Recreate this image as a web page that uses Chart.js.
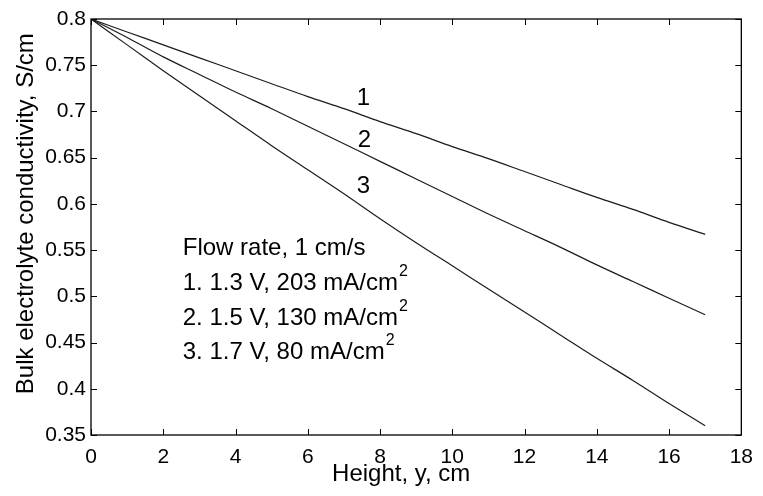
<!DOCTYPE html>
<html>
<head>
<meta charset="utf-8">
<script src="https://cdn.jsdelivr.net/npm/chart.js@4.4.1/dist/chart.umd.min.js"></script>
<style>
  html, body { margin: 0; padding: 0; background: #fff; }
  #wrap { width: 763px; height: 496px; position: relative; }
</style>
</head>
<body>
<div id="wrap"><canvas id="c" width="763" height="496"></canvas></div>
<script>
// Height along the electrode, cm
const heights = [0, 1, 2, 3, 4, 5, 6, 7, 8, 9, 10, 11, 12, 13, 14, 15, 16, 17];

// Bulk electrolyte conductivity, S/cm, for the three operating points
const curve1 = [0.800, 0.786, 0.772, 0.758, 0.744, 0.730, 0.716, 0.703, 0.689,
                0.676, 0.662, 0.649, 0.635, 0.621, 0.607, 0.594, 0.580, 0.567];
const curve2 = [0.800, 0.780, 0.759, 0.740, 0.721, 0.703, 0.684, 0.665, 0.646,
                0.627, 0.608, 0.589, 0.571, 0.553, 0.534, 0.516, 0.498, 0.480];
const curve3 = [0.800, 0.772, 0.744, 0.717, 0.690, 0.663, 0.637, 0.611, 0.584,
                0.558, 0.533, 0.508, 0.483, 0.458, 0.433, 0.409, 0.384, 0.360];

// Axis ticks
const xTicks = [0, 2, 4, 6, 8, 10, 12, 14, 16, 18];
const yTicks = [0.35, 0.4, 0.45, 0.5, 0.55, 0.6, 0.65, 0.7, 0.75, 0.8];
const yTickLabels = ['0.35', '0.4', '0.45', '0.5', '0.55', '0.6', '0.65', '0.7', '0.75', '0.8'];

// Axis titles
const xTitle = 'Height, y, cm';
const yTitle = 'Bulk electrolyte conductivity, S/cm';

// Curve numbers placed next to each line (data coordinates)
const curveTags = [
  { text: '1', x: 7.54, y: 0.7145 },
  { text: '2', x: 7.57, y: 0.669 },
  { text: '3', x: 7.54, y: 0.6186 }
];

// Note inside the plot
const noteLines = [
  { main: 'Flow rate, 1 cm/s', sup: '' },
  { main: '1. 1.3 V, 203 mA/cm', sup: '2' },
  { main: '2. 1.5 V, 130 mA/cm', sup: '2' },
  { main: '3. 1.7 V, 80 mA/cm', sup: '2' }
];
const noteX = 2.54;
const noteY = [0.5523, 0.5144, 0.4766, 0.4398];

const FONT = '"Liberation Sans", Arial, Helvetica, sans-serif';
const LINE_COLOR = '#1c1c1c';

function toPoints(ys) {
  return heights.map((h, i) => ({ x: h, y: ys[i] }));
}

function lineDataset(label, ys) {
  return {
    label: label,
    data: toPoints(ys),
    borderColor: LINE_COLOR,
    borderWidth: 1.2,
    pointRadius: 0,
    tension: 0.3,
    fill: false
  };
}

// Box around the plot area with inward tick marks on all four sides,
// axis titles, curve numbers and the note text.
const framePlugin = {
  id: 'frame',
  afterDatasetsDraw(chart) {
    const { ctx, chartArea: a, scales } = chart;
    const xs = scales.x, ys = scales.y;
    const tl = 6;
    ctx.save();
    ctx.strokeStyle = '#000';
    ctx.lineWidth = 1.3;
    ctx.strokeRect(a.left, a.top, a.right - a.left, a.bottom - a.top);
    ctx.lineWidth = 1;
    ctx.beginPath();
    xTicks.forEach(v => {
      const px = Math.round(xs.getPixelForValue(v)) + 0.5;
      ctx.moveTo(px, a.bottom); ctx.lineTo(px, a.bottom - tl);
      ctx.moveTo(px, a.top); ctx.lineTo(px, a.top + tl);
    });
    yTicks.forEach(v => {
      const py = Math.round(ys.getPixelForValue(v)) + 0.5;
      ctx.moveTo(a.left, py); ctx.lineTo(a.left + tl, py);
      ctx.moveTo(a.right, py); ctx.lineTo(a.right - tl, py);
    });
    ctx.stroke();

    ctx.fillStyle = '#000';

    // axis titles
    ctx.font = '24px ' + FONT;
    ctx.textAlign = 'center';
    ctx.textBaseline = 'alphabetic';
    ctx.fillText(xTitle, a.left + (a.right - a.left) * 0.477, a.bottom + 46);
    ctx.save();
    ctx.translate(33, a.top + (a.bottom - a.top) * 0.468);
    ctx.rotate(-Math.PI / 2);
    ctx.fillText(yTitle, 0, 0);
    ctx.restore();

    ctx.textBaseline = 'middle';
    ctx.textAlign = 'center';
    curveTags.forEach(t => {
      ctx.fillText(t.text, xs.getPixelForValue(t.x), ys.getPixelForValue(t.y));
    });

    ctx.textAlign = 'left';
    noteLines.forEach((ln, i) => {
      const px = xs.getPixelForValue(noteX);
      const py = ys.getPixelForValue(noteY[i]);
      ctx.font = '24px ' + FONT;
      ctx.fillText(ln.main, px, py);
      if (ln.sup) {
        const w = ctx.measureText(ln.main).width;
        ctx.font = '16px ' + FONT;
        ctx.fillText(ln.sup, px + w + 1, py - 11);
      }
    });
    ctx.restore();
  }
};

new Chart(document.getElementById('c'), {
  type: 'line',
  data: {
    datasets: [
      lineDataset('1', curve1),
      lineDataset('2', curve2),
      lineDataset('3', curve3)
    ]
  },
  options: {
    responsive: false,
    animation: false,
    devicePixelRatio: 1,
    layout: { padding: { left: 0, right: 14, top: 19, bottom: 0 } },
    plugins: {
      legend: { display: false },
      tooltip: { enabled: false }
    },
    scales: {
      x: {
        type: 'linear',
        min: 0,
        max: 18,
        afterBuildTicks(scale) { scale.ticks = xTicks.map(v => ({ value: v })); },
        afterFit(scale) { scale.height = 61; },
        grid: { display: false, drawTicks: false },
        border: { display: false },
        ticks: {
          color: '#000',
          padding: 10,
          font: { family: FONT, size: 21 },
          callback: v => String(v)
        },
        title: { display: false }
      },
      y: {
        type: 'linear',
        min: 0.35,
        max: 0.8,
        afterBuildTicks(scale) { scale.ticks = yTicks.map(v => ({ value: v })); },
        afterFit(scale) { scale.width = 91; },
        grid: { display: false, drawTicks: false },
        border: { display: false },
        ticks: {
          color: '#000',
          padding: 5,
          font: { family: FONT, size: 21 },
          callback: (v) => {
            const i = yTicks.findIndex(t => Math.abs(t - v) < 1e-9);
            return i >= 0 ? yTickLabels[i] : '';
          }
        },
        title: { display: false }
      }
    }
  },
  plugins: [framePlugin]
});
</script>
</body>
</html>
